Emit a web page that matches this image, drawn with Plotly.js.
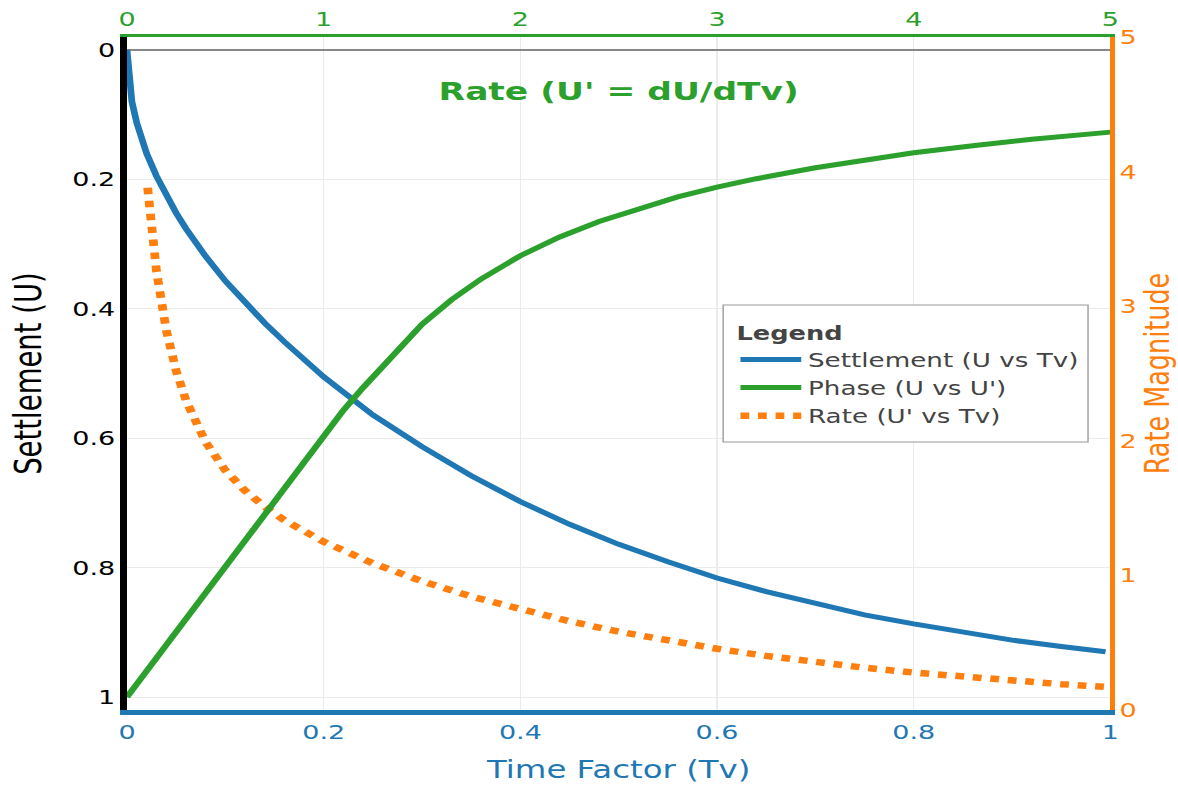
<!DOCTYPE html>
<html>
<head>
<meta charset="utf-8">
<script src="https://cdn.plot.ly/plotly-3.0.1.min.js"></script>
<style>
  html, body { margin: 0; padding: 0; background: #fff; overflow: hidden; }
  #wrap { width: 872px; height: 785px; transform: scaleX(1.35092); transform-origin: 0 0; }
  #plot { width: 872px; height: 785px; }
</style>
</head>
<body>
<div id="wrap"><div id="plot"></div></div>
<script>
// Settlement U vs time factor Tv (bottom x, left y)
var settleTv = [0, 0.005, 0.01, 0.02, 0.03, 0.04, 0.05, 0.06, 0.08, 0.1, 0.12, 0.14, 0.16, 0.18, 0.2, 0.25, 0.3, 0.35, 0.4, 0.45, 0.5, 0.55, 0.6, 0.65, 0.7, 0.75, 0.8, 0.85, 0.9, 0.95, 0.995];
var settleU  = [0, 0.080, 0.113, 0.160, 0.195, 0.226, 0.252, 0.276, 0.319, 0.357, 0.391, 0.422, 0.451, 0.479, 0.505, 0.564, 0.613, 0.658, 0.698, 0.733, 0.764, 0.791, 0.816, 0.837, 0.856, 0.873, 0.887, 0.900, 0.912, 0.922, 0.930];

// Phase: U vs U' (top x, left y)
var phaseRate = [0.0, 0.25, 0.5, 0.75, 1.0, 1.1, 1.2, 1.3, 1.4, 1.5, 1.65, 1.8, 2.0, 2.2, 2.4, 2.6, 2.8, 3.0, 3.2, 3.5, 3.8, 4.0, 4.3, 4.6, 5.0];
var phaseU    = [1.0, 0.899, 0.797, 0.696, 0.595, 0.557, 0.522, 0.489, 0.455, 0.424, 0.386, 0.354, 0.318, 0.289, 0.265, 0.245, 0.227, 0.212, 0.199, 0.182, 0.168, 0.159, 0.148, 0.138, 0.127];

// Rate U' vs Tv (bottom x, right y)
var rateTv = [0.021, 0.025, 0.03, 0.04, 0.05, 0.06, 0.08, 0.1, 0.12, 0.14, 0.16, 0.18, 0.2, 0.25, 0.3, 0.35, 0.4, 0.45, 0.5, 0.55, 0.6, 0.65, 0.7, 0.75, 0.8, 0.85, 0.9, 0.95, 0.995];
var rateVal = [3.88, 3.57, 3.26, 2.82, 2.52, 2.30, 1.99, 1.78, 1.63, 1.51, 1.41, 1.33, 1.25, 1.09, 0.957, 0.843, 0.745, 0.659, 0.582, 0.515, 0.455, 0.402, 0.356, 0.314, 0.278, 0.246, 0.217, 0.192, 0.172];

var tickX  = [0, 0.2, 0.4, 0.6, 0.8, 1];
var tickY  = [0, 0.2, 0.4, 0.6, 0.8, 1];
var tickX2 = [0, 1, 2, 3, 4, 5];
var tickY2 = [0, 1, 2, 3, 4, 5];

var BLUE = '#1f77b4', GREEN = '#2ca02c', ORANGE = '#ff7f0e';
var FONT = 'DejaVu Sans, Verdana, sans-serif';

var traces = [
  { x: settleTv, y: settleU, xaxis: 'x', yaxis: 'y', type: 'scatter', mode: 'lines',
    name: 'Settlement (U vs Tv)', line: { color: BLUE, width: 5 } },
  { x: phaseRate, y: phaseU, xaxis: 'x2', yaxis: 'y', type: 'scatter', mode: 'lines',
    name: "Phase (U vs U')", line: { color: GREEN, width: 5 } },
  { x: rateTv, y: rateVal, xaxis: 'x', yaxis: 'y2', type: 'scatter', mode: 'lines',
    name: "Rate (U' vs Tv)", line: { color: ORANGE, width: 6.5, dash: 'dot' } }
];

var layout = {
  width: 872, height: 785,
  margin: { l: 93.6, r: 50, t: 37, b: 75, pad: 0 },
  paper_bgcolor: '#fff', plot_bgcolor: '#fff',
  font: { family: FONT, size: 19, color: '#444' },
  title: { text: "Rate (U' = dU/dTv)", font: { family: FONT, size: 25.5, color: GREEN, weight: 'bold' },
           x: 0.5, xref: 'paper', xanchor: 'center', y: 0.884, yref: 'container', yanchor: 'middle' },
  showlegend: true,
  legend: { x: 0.6169, y: 0.5996, xanchor: 'left', yanchor: 'top', bgcolor: 'rgba(0,0,0,0)',
            borderwidth: 0, itemwidth: 45,
            font: { family: FONT, size: 19.4, color: '#444' },
            title: { text: '<span style="font-size:19px"><b>Legend</b></span>',
                     font: { family: FONT, size: 26, color: '#444' } } },
  shapes: [
    { type: 'rect', xref: 'paper', yref: 'paper', x0: 0.6062, x1: 0.9772, y0: 0.3982, y1: 0.6018,
      line: { color: '#999', width: 1 }, fillcolor: '#fff', layer: 'above' }
  ],
  xaxis: { range: [0, 1], tickvals: tickX, showline: true, linecolor: BLUE, linewidth: 4.5,
           showgrid: true, gridcolor: '#ebebeb', gridwidth: 1, zeroline: false, ticks: '',
           tickfont: { family: FONT, size: 20, color: BLUE },
           title: { text: 'Time Factor (Tv)', font: { family: FONT, size: 24, color: BLUE }, standoff: 20 },
           automargin: false },
  yaxis: { range: [1.02, -0.02], tickvals: tickY, showline: true, linecolor: '#000', linewidth: 4.5,
           showgrid: true, gridcolor: '#ebebeb', gridwidth: 1, zeroline: true, zerolinecolor: '#888', zerolinewidth: 2,
           ticks: '', tickfont: { family: FONT, size: 20, color: '#000' },
           title: { text: 'Settlement (U)', font: { family: FONT, size: 27.5, color: '#000' }, standoff: 16 },
           automargin: false },
  xaxis2: { range: [0, 5], tickvals: tickX2, overlaying: 'x', side: 'top', anchor: 'y',
            showline: true, linecolor: GREEN, linewidth: 2.5, showgrid: false, zeroline: false, ticks: '',
            tickfont: { family: FONT, size: 20, color: GREEN }, automargin: false },
  yaxis2: { range: [0, 5], tickvals: tickY2, overlaying: 'y', side: 'right', anchor: 'x',
            showline: true, linecolor: ORANGE, linewidth: 2.5, showgrid: false, zeroline: false, ticks: '',
            tickfont: { family: FONT, size: 20, color: ORANGE },
            title: { text: 'Rate Magnitude', font: { family: FONT, size: 25.5, color: ORANGE }, standoff: 7 },
            automargin: false }
};

Plotly.newPlot('plot', traces, layout, { displayModeBar: false, responsive: false });
</script>
</body>
</html>
